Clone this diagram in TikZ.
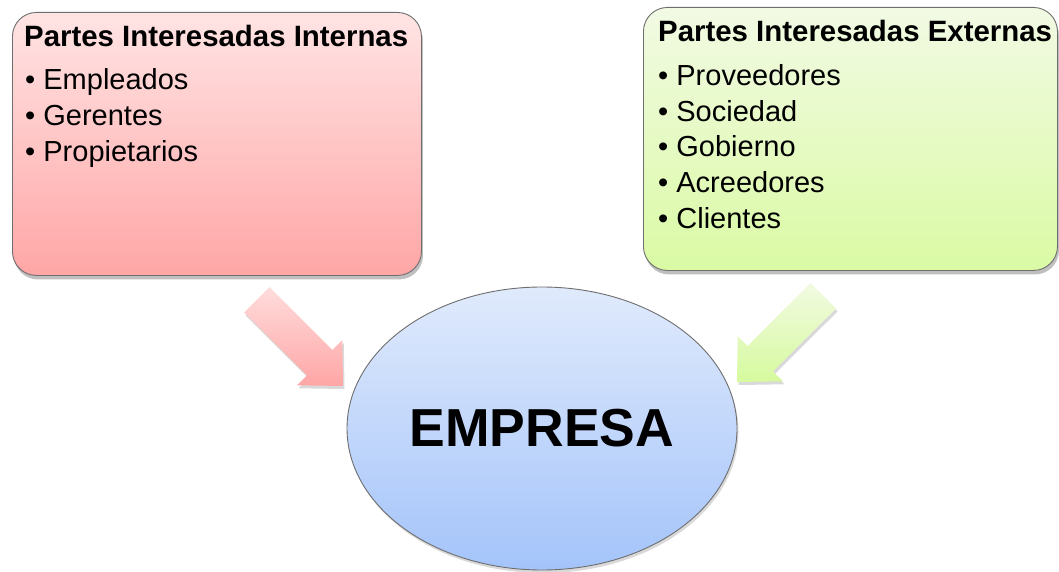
\documentclass[tikz,border=0pt]{standalone}
\usepackage{fontspec}
\setmainfont{Liberation Sans}
\usetikzlibrary{shapes.geometric,shadows}
\definecolor{pinkT}{RGB}{255,228,228}
\definecolor{pinkB}{RGB}{255,166,166}
\definecolor{greenT}{RGB}{242,250,228}
\definecolor{greenB}{RGB}{218,250,164}
\definecolor{blueT}{RGB}{224,234,252}
\definecolor{blueB}{RGB}{164,196,250}
\definecolor{boxline}{RGB}{110,110,110}
\definecolor{arrPinkT}{RGB}{255,220,220}
\definecolor{arrPinkB}{RGB}{255,166,166}
\definecolor{arrGreenT}{RGB}{242,250,226}
\definecolor{arrGreenB}{RGB}{214,250,158}
\begin{document}
\begin{tikzpicture}[x=1pt,y=-1pt,
  box/.style={draw=boxline, line width=0.9pt, rounded corners=24pt, inner sep=0pt,
    drop shadow={shadow xshift=1.5pt, shadow yshift=-4pt, fill=black, opacity=0.25}},
  titletext/.style={anchor=base west, inner sep=0pt, font=\bfseries\fontsize{29.4}{34}\selectfont},
  itemtext/.style={anchor=base west, inner sep=0pt, font=\fontsize{29}{34}\selectfont},
  blockarrow/.style={drop shadow={shadow xshift=1.5pt, shadow yshift=-3pt, fill=black, opacity=0.15}}
]
\useasboundingbox (0,0) rectangle (1059,572);

% boxes
\node[box, top color=pinkT, bottom color=pinkB, minimum width=409pt, minimum height=263pt, anchor=north west] (intbox) at (12,12) {};
\node[box, top color=greenT, bottom color=greenB, minimum width=414pt, minimum height=263pt, anchor=north west] (extbox) at (643,7) {};

% company
\node[ellipse, draw=boxline, line width=0.9pt, top color=blueT, bottom color=blueB,
  minimum width=390pt, minimum height=283pt, inner sep=0pt,
  drop shadow={shadow xshift=1.5pt, shadow yshift=-3pt, fill=black, opacity=0.15}] (emp) at (542,428.5) {};
\node[anchor=base, inner sep=0pt, font=\bfseries\fontsize{53.5}{60}\selectfont] (emptext) at (542,446) {EMPRESA};

% texts internal
\node[titletext] (intT) at (24,47) {Partes Interesadas Internas};
\node[itemtext] (i1) at (25,90) {• Empleados};
\node[itemtext] (i2) at (25,126) {• Gerentes};
\node[itemtext] (i3) at (25,162) {• Propietarios};

% texts external
\node[titletext] (extT) at (658,42) {Partes Interesadas Externas};
\node[itemtext] (e1) at (658,86) {• Proveedores};
\node[itemtext] (e2) at (658,121.5) {• Sociedad};
\node[itemtext] (e3) at (658,157) {• Gobierno};
\node[itemtext] (e4) at (658,192.5) {• Acreedores};
\node[itemtext] (e5) at (658,228) {• Clientes};

% block arrows
\coordinate (tipL) at (343,386);
\coordinate (tipR) at (737,382);
\path[blockarrow, top color=arrPinkT, bottom color=arrPinkB]
  (tipL) -- (342.3,340) -- (332.4,350) -- (269.5,287) -- (244,312.5) -- (307,375.4) -- (297,385.3) -- cycle;
\path[blockarrow, top color=arrGreenT, bottom color=arrGreenB]
  (tipR) -- (737.7,336) -- (747.6,346) -- (810.5,283) -- (836,308.5) -- (773,371.4) -- (783,381.3) -- cycle;
\end{tikzpicture}
\end{document}
